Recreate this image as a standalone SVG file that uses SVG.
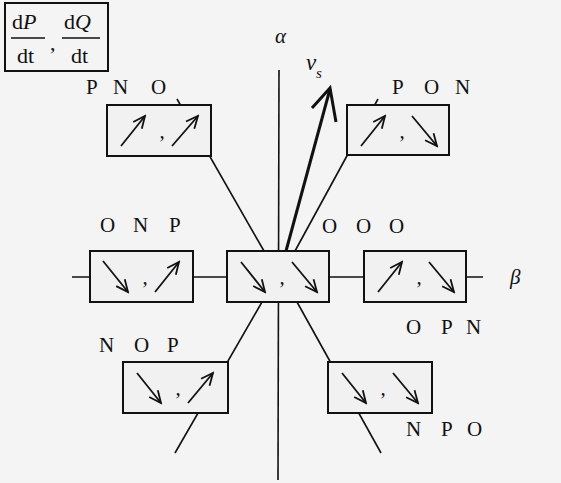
<svg xmlns="http://www.w3.org/2000/svg" width="561" height="483" viewBox="0 0 561 483">
<style>
.bg{fill:#f4f4f4}
.box{fill:#f1f1f1;stroke:#111;stroke-width:2}
.ln{stroke:#111;stroke-width:1.6;fill:none}
.ar{stroke:#111;stroke-width:1.8;fill:none;marker-end:url(#head)}
.lbl{font-family:"Liberation Serif","Times New Roman",serif;font-size:21px;fill:#111}
.lg{font-family:"Liberation Serif","Times New Roman",serif;font-size:22px;fill:#111}
.it{font-style:italic}
.cm{font-family:"Liberation Serif",serif;font-size:21px;fill:#111;text-anchor:middle}
</style>
<defs>
<marker id="head" viewBox="-14 -8 16 16" markerWidth="16" markerHeight="16" refX="0" refY="0" orient="auto" markerUnits="userSpaceOnUse">
<path d="M-12,-5.5 L0,0 L-12,5.5" fill="none" stroke="#111" stroke-width="1.8"/>
</marker>
</defs>
<rect class="bg" x="0" y="0" width="561" height="483"/>

<g id="legend">
<rect x="5" y="3" width="103" height="68" fill="#f4f4f4" stroke="#111" stroke-width="2"/>
<text class="lg" x="12" y="29">d<tspan class="it">P</tspan></text>
<line x1="11" y1="38" x2="45" y2="38" stroke="#111" stroke-width="1.5"/>
<text class="lg" x="17" y="63">dt</text>
<text class="lg" x="50" y="50">,</text>
<text class="lg" x="64" y="29">d<tspan class="it">Q</tspan></text>
<line x1="62" y1="38" x2="100" y2="38" stroke="#111" stroke-width="1.5"/>
<text class="lg" x="71" y="63">dt</text>
</g>

<g id="connectors">
<line class="ln" x1="279" y1="70" x2="278" y2="480"/>
<line class="ln" x1="72" y1="277" x2="483" y2="277"/>
<line class="ln" x1="264" y1="251" x2="177" y2="99"/>
<line class="ln" x1="295" y1="251" x2="378" y2="99"/>
<line class="ln" x1="262" y1="302" x2="175" y2="453"/>
<line class="ln" x1="297" y1="302" x2="381" y2="453"/>
<line x1="286" y1="251" x2="330" y2="89" stroke="#111" stroke-width="3"/>
<polyline points="312,108 330,88 336,122" fill="none" stroke="#111" stroke-width="3" stroke-linejoin="miter"/>
</g>

<g id="axis-labels">
<text class="lbl it" x="275" y="43">α</text>
<text class="lbl it" x="510" y="284">β</text>
<text class="lbl it" x="306" y="70" style="font-size:23px">v</text>
<text class="lbl it" x="316" y="78" style="font-size:15px">s</text>
</g>

<g id="node-PNO">
<rect class="box" x="107" y="105" width="104" height="51"/>
<line class="ar" x1="121" y1="146" x2="145" y2="116"/>
<text class="cm" x="162" y="138">,</text>
<line class="ar" x1="172" y1="146" x2="198" y2="116"/>
<text class="lbl" x="86 100 113 132 151" y="94">P N O</text>
</g>

<g id="node-PON">
<rect class="box" x="347" y="105" width="102" height="50"/>
<line class="ar" x1="361" y1="146" x2="385" y2="116"/>
<text class="cm" x="402" y="138">,</text>
<line class="ar" x1="412" y1="116" x2="437" y2="146"/>
<text class="lbl" x="392 410 424 442 455" y="94">P O N</text>
</g>

<g id="node-ONP">
<rect class="box" x="90" y="251" width="103" height="51"/>
<line class="ar" x1="103" y1="261" x2="128" y2="292"/>
<text class="cm" x="145" y="284">,</text>
<line class="ar" x1="155" y1="292" x2="179" y2="262"/>
<text class="lbl" x="100 117 133 152 169" y="232">O N P</text>
</g>

<g id="node-OOO">
<rect class="box" x="227" y="251" width="102" height="51"/>
<line class="ar" x1="241" y1="262" x2="265" y2="292"/>
<text class="cm" x="282" y="284">,</text>
<line class="ar" x1="292" y1="262" x2="317" y2="292"/>
<text class="lbl" x="322 340 356 374 389" y="233">O O O</text>
</g>

<g id="node-OPN">
<rect class="box" x="364" y="251" width="102" height="51"/>
<line class="ar" x1="378" y1="292" x2="402" y2="262"/>
<text class="cm" x="419" y="284">,</text>
<line class="ar" x1="429" y1="262" x2="454" y2="292"/>
<text class="lbl" x="406 425 441 456 466" y="334">O P N</text>
</g>

<g id="node-NOP">
<rect class="box" x="123" y="362" width="105" height="51"/>
<line class="ar" x1="137" y1="373" x2="161" y2="403"/>
<text class="cm" x="178" y="395">,</text>
<line class="ar" x1="188" y1="403" x2="213" y2="373"/>
<text class="lbl" x="99 118 134 152 167" y="352">N O P</text>
</g>

<g id="node-NPO">
<rect class="box" x="328" y="362" width="104" height="51"/>
<line class="ar" x1="342" y1="373" x2="366" y2="403"/>
<text class="cm" x="383" y="395">,</text>
<line class="ar" x1="393" y1="373" x2="418" y2="403"/>
<text class="lbl" x="406 425 441 458 467" y="436">N P O</text>
</g>
</svg>
